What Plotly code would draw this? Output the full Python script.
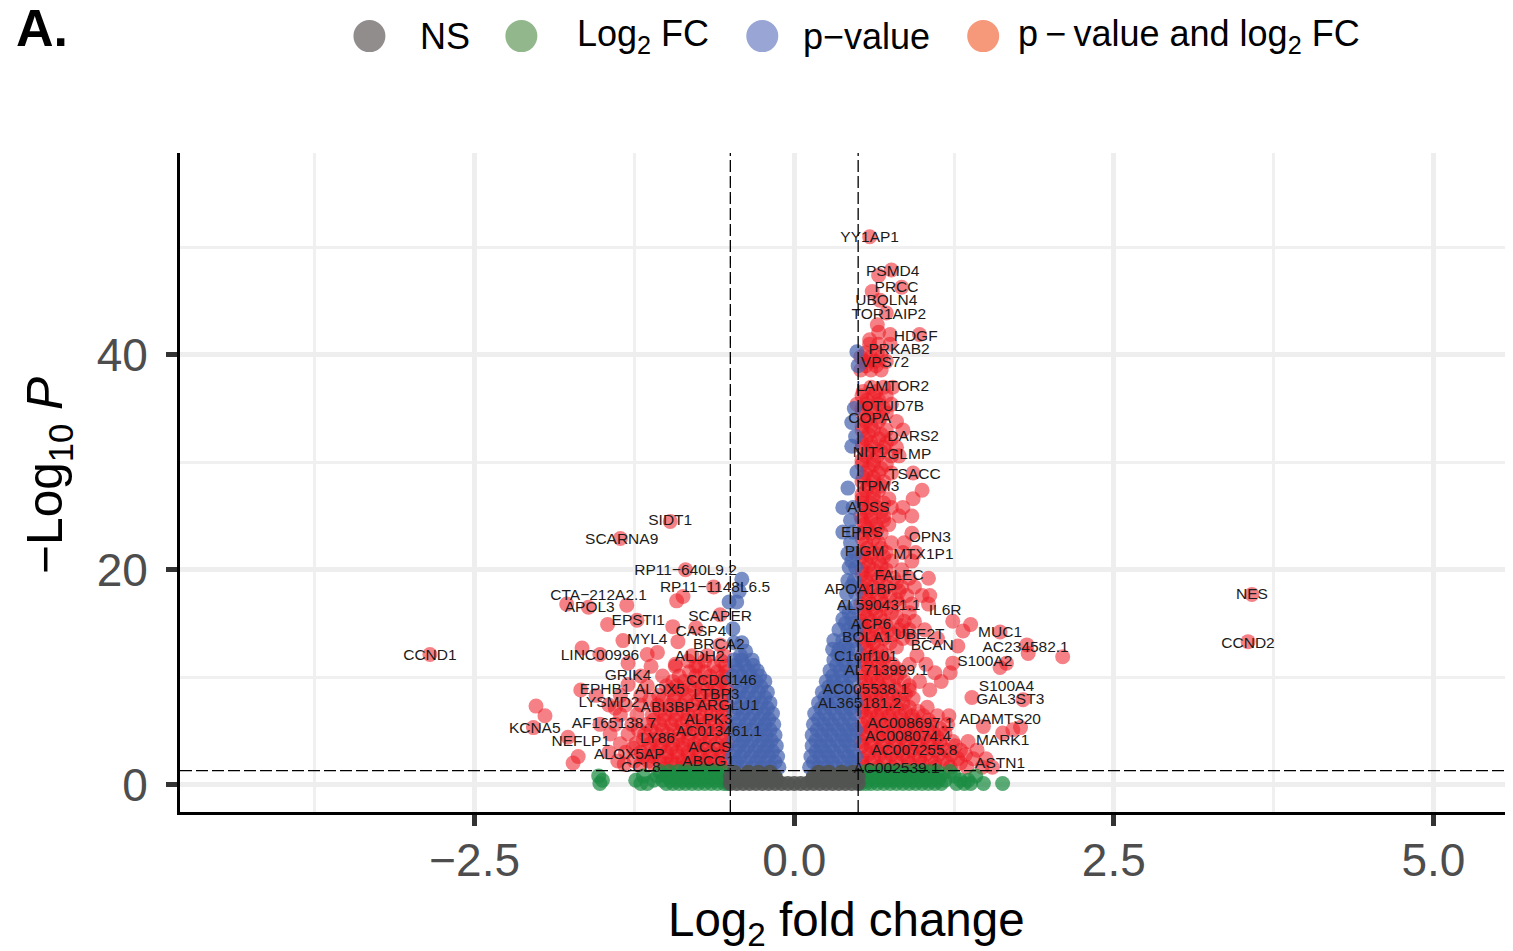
import plotly.graph_objects as go

# ---------- tick and threshold values ----------
x_major = [-2.5, 0, 2.5, 5]
x_major_text = ["\u22122.5", "0.0", "2.5", "5.0"]
x_minor = [-3.75, -1.25, 1.25, 3.75]
y_major = [0, 20, 40]
y_major_text = ["0", "20", "40"]
y_minor = [10, 30, 50]
fc_cut = [-0.5, 0.5]
p_cut = 1.3

# ---------- estimated point clouds: rows of (y, [x, ...]) for dense areas ----------
red_left_rows = [
    (1.5, [-.55, -.66, -.78, -.89, -1.01]),
    (1.9, [-.58, -.68, -.75, -.84, -.93, -1.0, -1.1, -1.2, -1.33]),
    (2.2, [-.53, -.62, -.7, -.79, -.87, -.96, -1.05, -1.14, -1.25, -1.38]),
    (2.6, [-.57, -.66, -.75, -.83, -.91, -1.0, -1.1, -1.18]),
    (3.0, [-.56, -.65, -.74, -.83, -.92, -1.0, -1.09, -1.2, -1.32, -1.45]),
    (3.4, [-.53, -.6, -.69, -.78, -.87, -.96, -1.05, -1.14, -1.26]),
    (3.8, [-.52, -.61, -.7, -.78, -.87, -.95, -1.04, -1.13, -1.24, -1.36]),
    (4.2, [-.56, -.66, -.74, -.83, -.91, -1.0, -1.09, -1.18]),
    (4.7, [-.55, -.64, -.73, -.82, -.9, -.99, -1.08, -1.17, -1.3, -1.44]),
    (5.1, [-.52, -.6, -.68, -.77, -.85, -.94, -1.03, -1.12, -1.22]),
    (5.6, [-.53, -.62, -.71, -.79, -.88, -.96, -1.05, -1.15, -1.27, -1.4, -1.52]),
    (6.0, [-.57, -.66, -.75, -.84, -.93, -1.02, -1.1]),
    (6.5, [-.56, -.65, -.74, -.83, -.92, -1.01, -1.11, -1.23, -1.36]),
    (6.9, [-.53, -.6, -.69, -.78, -.87, -.96, -1.05]),
    (7.4, [-.52, -.61, -.7, -.79, -.88, -.97, -1.07, -1.2, -1.32, -1.45]),
    (7.9, [-.57, -.66, -.75, -.85, -.94, -1.03, -1.13]),
    (8.3, [-.55, -.64, -.73, -.83, -.93, -1.06, -1.2, -1.36, -1.55]),
    (8.8, [-.52, -.6, -.68, -.78, -.88, -.97]),
    (9.2, [-.53, -.62, -.72, -.82, -.92, -1.0, -1.15]),
    (9.6, [-.57, -.66, -.76, -.86, -.95]),
    (10.1, [-.56, -.66, -.77, -.9, -1.03, -1.2]),
    (10.5, [-.53, -.6, -.7, -.82]),
    (11.0, [-.54, -.63, -.75, -.93, -1.12]),
    (11.5, [-.57, -.7, -.83]),
    (12.0, [-.55, -.68, -.8]),
    (13.0, [-.58]),
]
red_left_x = [-.97, -1.36, -.85, -.63, -.87, -.92, -1.78, -1.31, -1.61, -1.46, -1.23, -.95, -.58, -.77,
              -1.34, -1.66, -2.85, -1.52, -1.15, -1.07, -.91, -.93, -.77, -1.3, -1.67, -2.02, -1.95, -2.04,
              -1.77, -1.69, -1.73, -1.4, -1.3]
red_left_y = [24.5, 22.9, 20.0, 18.4, 17.5, 17.1, 16.8, 16.7, 16.5, 14.9, 15.3, 14.7, 15.8, 14.6,
              13.4, 12.7, 12.1, 12.1, 12.1, 12.3, 13.3, 11.2, 11.0, 11.3, 8.8, 7.3, 6.4, 5.3,
              4.4, 2.6, 2.0, 7.1, 9.3]

red_right_rows = [
    (1.6, [.55, .66, .77, .88, .99, 1.1, 1.22, 1.35, 1.47]),
    (2.0, [.53, .6, .7, .8, .9, 1.0, 1.1, 1.2, 1.3]),
    (2.4, [.53, .62, .71, .8, .89, .98, 1.07, 1.17, 1.28, 1.4]),
    (2.8, [.58, .67, .76, .85, .94, 1.03, 1.13, 1.23, 1.34]),
    (3.2, [.56, .65, .74, .83, .92, 1.01, 1.1, 1.19, 1.3, 1.43]),
    (3.6, [.53, .6, .69, .78, .87, .96, 1.06, 1.15, 1.26]),
    (4.0, [.52, .61, .7, .79, .88, .97, 1.05, 1.14, 1.24, 1.36]),
    (4.4, [.57, .66, .75, .84, .93, 1.02, 1.12]),
    (4.8, [.55, .64, .73, .82, .91, 1.0, 1.09, 1.18]),
    (5.2, [.52, .6, .69, .78, .87, .95, 1.04, 1.14]),
    (5.6, [.53, .62, .71, .8, .89, .98, 1.08, 1.2]),
    (6.0, [.58, .67, .76, .85, .94, 1.05]),
    (6.4, [.56, .65, .74, .83, .92, 1.01, 1.12, 1.21]),
    (6.8, [.53, .6, .68, .77, .87, .97]),
    (7.2, [.53, .62, .71, .8, .9, 1.04]),
    (7.6, [.57, .66, .76, .85]),
    (8.0, [.55, .64, .73, .82, .93]),
    (8.4, [.53, .6, .68, .77, .87]),
    (8.8, [.52, .62, .7, .8, .9, 1.06]),
    (9.2, [.58, .67, .78, .9]),
    (9.6, [.56, .65, .74, .86, .98, 1.15]),
    (10.0, [.53, .6, .69, .8]),
    (10.4, [.53, .63, .72, .83, 1.1, 1.22]),
    (10.8, [.58, .68, .8]),
    (11.2, [.56, .66, .77, .9, 1.03]),
    (11.6, [.53, .6, .7]),
    (12.0, [.53, .62, .72, .96]),
    (12.4, [.58, .68]),
    (12.8, [.56, .65, .8]),
    (13.2, [.54, .62, .75]),
    (13.6, [.52, .6, .7, .85, .92, 1.12]),
    (14.0, [.58, .68, .78]),
    (14.4, [.55, .64, .74, .82, .9, 1.02]),
    (14.8, [.54, .62, .72, .84]),
    (15.2, [.52, .6, .7, .86, .94]),
    (15.6, [.57, .67, .8]),
    (16.0, [.55, .64, .76, .9]),
    (16.4, [.54, .62, .72]),
    (16.8, [.52, .6, .7, .82, .92, 1.05]),
    (17.2, [.58, .68, .8]),
    (17.6, [.56, .65, .75, .88, 1.0, 1.06]),
    (18.0, [.53, .6, .7, .82]),
    (18.4, [.53, .62, .72, .84, .94]),
    (18.8, [.57, .68, .8]),
    (19.2, [.56, .66, .78, .9, 1.05]),
    (19.6, [.53, .6, .7]),
    (20.0, [.53, .62, .72, .84]),
    (20.4, [.58, .68]),
    (20.8, [.56, .66, .76, .92]),
    (21.2, [.53, .6, .7]),
    (21.6, [.53, .62, .72, .85, .95]),
    (22.0, [.57, .68]),
    (22.5, [.56, .66, .76, .86]),
    (22.9, [.53, .62]),
    (23.4, [.52, .6, .68, .92]),
    (23.8, [.57, .65]),
    (24.2, [.55, .64, .74]),
    (24.6, [.53, .6, .7]),
    (25.0, [.52, .6, .7, .82, .92]),
    (25.4, [.57, .68]),
    (25.8, [.56, .65, .76, .85]),
    (26.2, [.53, .6, .7]),
    (26.6, [.53, .62, .74, .93]),
    (27.0, [.53, .62]),
    (27.4, [.56, .66, 1.0]),
    (27.8, [.58, .68]),
    (28.2, [.53, .62, .7]),
    (28.6, [.54, .62]),
    (29.0, [.56, .66, .76, .93]),
    (29.4, [.58, .68]),
    (29.8, [.53, .62, .72]),
    (30.2, [.53, .62]),
    (30.6, [.56, .65, .76, .82]),
    (31.0, [.58, .68]),
    (31.4, [.53, .62, .7, .8]),
    (31.8, [.53, .6, .72]),
    (32.2, [.56, .66, .76]),
    (32.6, [.58, .68]),
    (33.0, [.53, .62, .72, .85]),
    (33.4, [.53, .6]),
    (33.8, [.56, .66, .8]),
    (34.2, [.58, .68]),
    (34.6, [.53, .62, .72]),
    (35.0, [.53, .6, .7]),
    (35.4, [.49, .56, .66, .76]),
    (35.8, [.57, .66]),
    (36.2, [.53, .62, .72]),
    (36.6, [.54, .64]),
    (37.0, [.6, .7, .77]),
    (38.6, [.52, .6, .68]),
    (39.0, [.56, .64]),
    (39.4, [.55, .63, .72]),
    (39.8, [.52, .6, .68]),
    (40.2, [.56, .65]),
    (41.0, [.59, .66, .75]),
]
red_right_x = [.59, .76, .66, .84, .61, .67, .72, .65, .66, .75, .98, .59, 2.10, 1.82, 1.83, 1.66, 1.61,
               1.38, 1.32, 1.28, 1.24, 1.24, 1.61, 1.39, 1.79, 1.77, 1.71, 1.63, 1.48, 1.5, 1.55, 3.58, 3.55]
red_right_y = [51.0, 47.9, 47.4, 46.3, 45.9, 45.1, 43.9, 42.8, 42.1, 41.9, 41.9, 41.4, 11.9, 13.0, 12.2, 11.3, 10.9,
               14.9, 14.3, 12.9, 11.3, 15.2, 14.2, 8.1, 7.9, 5.3, 5.1, 4.8, 5.4, 2.4, 1.6, 17.7, 13.3]

blue_left_rows = [
    (1.6, [-.12, -.19, -.26, -.33, -.41, -.47]),
    (2.1, [-.15, -.23, -.3, -.38, -.45]),
    (2.6, [-.13, -.2, -.27, -.34, -.42, -.48]),
    (3.1, [-.17, -.24, -.31, -.39, -.46]),
    (3.6, [-.14, -.21, -.28, -.36, -.43]),
    (4.1, [-.18, -.25, -.33, -.4, -.47]),
    (4.6, [-.15, -.22, -.29, -.37, -.44]),
    (5.1, [-.19, -.26, -.34, -.41, -.48]),
    (5.6, [-.16, -.23, -.3, -.38, -.46]),
    (6.1, [-.2, -.27, -.35, -.43]),
    (6.6, [-.17, -.24, -.32, -.4, -.47]),
    (7.1, [-.21, -.29, -.37, -.44]),
    (7.6, [-.19, -.26, -.33, -.41]),
    (8.1, [-.23, -.31, -.39, -.47]),
    (8.6, [-.21, -.28, -.36, -.43]),
    (9.1, [-.26, -.33, -.41]),
    (9.6, [-.23, -.3, -.38, -.46]),
    (10.1, [-.27, -.34, -.41, -.48]),
    (10.6, [-.29, -.36, -.44]),
    (11.1, [-.32, -.39, -.46]),
    (11.6, [-.33, -.41, -.47]),
    (12.0, [-.42]),
    (12.4, [-.38]),
    (13.2, [-.41, -.47]),
    (14.5, [-.48]),
    (17.0, [-.51, -.45]),
    (18.0, [-.43]),
    (19.1, [-.41]),
]
blue_right_rows = [
    (1.6, [.12, .19, .26, .33, .41, .47]),
    (2.1, [.15, .23, .3, .38, .45]),
    (2.6, [.13, .2, .27, .34, .42, .48]),
    (3.1, [.17, .24, .31, .39, .46]),
    (3.6, [.14, .21, .28, .36, .43]),
    (4.1, [.17, .25, .33, .4, .47]),
    (4.6, [.14, .22, .29, .37, .44]),
    (5.1, [.18, .26, .34, .41, .48]),
    (5.6, [.15, .23, .3, .38, .46]),
    (6.1, [.19, .27, .35, .43]),
    (6.6, [.16, .24, .32, .4, .47]),
    (7.1, [.21, .29, .37, .44]),
    (7.6, [.19, .26, .33, .41, .48]),
    (8.1, [.24, .31, .39, .47]),
    (8.6, [.22, .28, .36, .43]),
    (9.1, [.27, .33, .41]),
    (9.6, [.25, .31, .38, .46]),
    (10.1, [.3, .37, .44]),
    (10.6, [.28, .36, .44]),
    (11.1, [.33, .4, .47]),
    (11.6, [.31, .38, .46]),
    (12.1, [.34, .41]),
    (12.6, [.3, .35, .42, .48]),
    (13.0, [.4]),
    (13.4, [.31, .38, .46]),
    (14.0, [.44]),
    (14.4, [.35, .42, .48]),
    (15.0, [.4, .47]),
    (15.4, [.38, .45]),
    (16.0, [.43]),
    (16.5, [.4, .47]),
    (17.8, [.41, .48]),
    (18.5, [.45]),
    (19.0, [.42, .47]),
    (20.2, [.43, .48]),
    (20.8, [.45]),
    (21.5, [.42, .48]),
    (22.5, [.44]),
    (23.5, [.38, .46]),
    (24.6, [.44]),
    (25.8, [.38, .46]),
    (27.6, [.42]),
    (29.1, [.49]),
    (31.5, [.45]),
    (32.4, [.48]),
    (33.7, [.45]),
    (35.0, [.47]),
    (39.0, [.5]),
    (40.3, [.49]),
]
green_rows = [
    (0.1, [-1.52, -1.2, -1.15, -1.0, -.95, -.9, -.85, -.8, -.75, -.7, -.65, -.6, -.55, -.52,
           .52, .56, .6, .65, .7, .75, .8, .85, .9, .95, 1.0, 1.05, 1.1, 1.15, 1.27, 1.33, 1.38, 1.48, 1.63]),
    (0.4, [-1.5, -1.24, -1.1, -1.03, -.97, -.92, -.87, -.82, -.77, -.72, -.67, -.62, -.57, -.53,
           .53, .58, .63, .68, .73, .78, .83, .88, .93, .98, 1.03, 1.08, 1.13, 1.18, 1.3, 1.36]),
    (0.8, [-1.53, -1.18, -1.07, -1.0, -.94, -.89, -.84, -.79, -.74, -.69, -.64, -.59, -.54,
           .54, .59, .64, .69, .74, .79, .84, .89, .94, .99, 1.04, 1.09, 1.14, 1.25, 1.42]),
    (1.2, [-1.05, -.98, -.91, -.86, -.81, -.76, -.71, -.66, -.61, -.56,
           .56, .61, .66, .71, .76, .81, .86, .91, .96, 1.01, 1.06, 1.12, 1.22]),
]
gray_rows = [
    (0.1, [-.5, -.45, -.4, -.35, -.3, -.25, -.2, -.15, -.1, -.05, 0.0, .05, .1, .15, .2, .25, .3, .35, .4, .45, .5]),
    (0.45, [-.48, -.43, -.38, -.33, -.28, -.23, -.18, -.14, .14, .18, .23, .28, .33, .38, .43, .48]),
    (0.75, [-.5, -.45, -.4, -.35, -.3, -.25, -.2, -.15, .15, .2, .25, .3, .35, .4, .45, .5]),
    (1.15, [-.47, -.36, -.28, -.19, .19, .27, .37, .46]),
]

# ---------- gene labels ----------
label_names = ["YY1AP1", "PSMD4", "PRCC", "UBQLN4", "TOR1AIP2", "HDGF", "PRKAB2", "VPS72", "LAMTOR2", "OTUD7B",
               "COPA", "DARS2", "NIT1", "GLMP", "TSACC", "TPM3", "ADSS", "EPRS", "OPN3", "PIGM", "MTX1P1", "FALEC",
               "APOA1BP", "AL590431.1", "IL6R", "ACP6", "MUC1", "BOLA1", "UBE2T", "AC234582.1", "BCAN", "C1orf101",
               "S100A2", "AL713999.1", "AC005538.1", "S100A4", "GAL3ST3", "AL365181.2", "ADAMTS20", "AC008697.1",
               "AC008074.4", "AC007255.8", "MARK1", "ASTN1", "AC002539.1",
               "SIDT1", "SCARNA9", "RP11\u2212640L9.2", "RP11\u22121148L6.5", "CTA\u2212212A2.1", "APOL3", "EPSTI1",
               "SCAPER", "CASP4", "MYL4", "BRCA2", "LINC00996", "ALDH2", "CCND1", "GRIK4", "CCDC146", "EPHB1",
               "ALOX5", "LTBP3", "LYSMD2", "ABI3BP", "ARGLU1", "AF165138.7", "ALPK3", "KCNA5", "AC013461.1", "LY86",
               "NEFLP1", "ACCS", "ALOX5AP", "ABCG1", "CCL8", "NES", "CCND2"]
label_x = [.59, .77, .80, .72, .74, .95, .82, .71, .77, .77,
           .59, .93, .59, .90, .94, .66, .58, .53, 1.06, .55, 1.01, .82,
           .52, .66, 1.18, .60, 1.61, .57, .98, 1.81, 1.08, .56,
           1.49, .72, .56, 1.66, 1.69, .51, 1.61, .91,
           .89, .94, 1.63, 1.61, .80,
           -.97, -1.35, -.85, -.62, -1.53, -1.60, -1.22,
           -.58, -.73, -1.15, -.59, -1.52, -.74, -2.85, -1.30, -.57, -1.48,
           -1.05, -.61, -1.45, -.99, -.52, -1.41, -.67, -2.03, -.59, -1.07,
           -1.67, -.66, -1.29, -.67, -1.20, 3.58, 3.55]
label_y = [50.9, 47.7, 46.2, 45.0, 43.7, 41.7, 40.4, 39.2, 37.0, 35.1,
           34.0, 32.3, 30.9, 30.7, 28.8, 27.7, 25.7, 23.4, 22.9, 21.6, 21.4, 19.4,
           18.1, 16.6, 16.1, 14.8, 14.1, 13.6, 13.9, 12.7, 12.9, 11.9,
           11.4, 10.6, 8.8, 9.1, 7.9, 7.5, 6.0, 5.6,
           4.4, 3.1, 4.0, 1.9, 1.4,
           24.5, 22.8, 19.9, 18.3, 17.5, 16.4, 15.2,
           15.6, 14.2, 13.4, 13.0, 12.0, 11.9, 12.0, 10.1, 9.6, 8.8,
           8.8, 8.3, 7.6, 7.1, 7.3, 5.6, 6.0, 5.2, 4.9, 4.2,
           3.9, 3.4, 2.7, 2.1, 1.5, 17.6, 13.1]

# ---------- legend entries: name, dot colour ----------
legend_names = ["NS", "Log<sub>2</sub> FC", "p\u2212value", "p\u2009\u2212\u2009value and log<sub>2</sub> FC"]
legend_colors = ["#918d8d", "#92b78c", "#99a5d5", "#f6987a"]
x_title = "Log<sub>2</sub> fold change"
y_title = "\u2212Log<sub>10</sub> <i>P</i>"


def unpack(rows, extra_x=(), extra_y=()):
    xs, ys = [], []
    for y, row in rows:
        xs += row
        ys += [y] * len(row)
    return xs + list(extra_x), ys + list(extra_y)


# ---------- layout geometry (pixels in the 1513x951 page) ----------
W, H = 1513, 951
L, R, T, B = 179.5, 1505, 153, 812.5


def px(v):
    return (v - L) / (R - L)


def py(v):
    return (B - v) / (B - T)


fig = go.Figure()

series = [
    ("p-value and log2 FC left", *unpack(red_left_rows, red_left_x, red_left_y), "rgba(238,28,37,0.56)"),
    ("p-value and log2 FC right", *unpack(red_right_rows, red_right_x, red_right_y), "rgba(238,28,37,0.56)"),
    ("p-value left", *unpack(blue_left_rows), "rgba(70,100,175,0.72)"),
    ("p-value right", *unpack(blue_right_rows), "rgba(70,100,175,0.72)"),
    ("Log2 FC", *unpack(green_rows), "rgba(28,140,66,0.72)"),
    ("NS", *unpack(gray_rows), "rgba(82,84,82,0.9)"),
]
for name, xs, ys, color in series:
    fig.add_trace(go.Scatter(x=xs, y=ys, mode="markers", name=name, showlegend=False, hoverinfo="skip",
                             marker=dict(size=15, color=color, line=dict(width=0))))

fig.add_trace(go.Scatter(x=label_x, y=label_y, text=label_names, mode="text", showlegend=False,
                         textposition="middle center", cliponaxis=False, hoverinfo="skip",
                         textfont=dict(family="Liberation Sans", size=15.5, color="#1c1c1c")))

shapes = []
for c in fc_cut:
    shapes.append(dict(type="line", xref="x", yref="paper", x0=c, x1=c, y0=0, y1=1, layer="above",
                       line=dict(color="black", width=1.3, dash="12px,4px")))
shapes.append(dict(type="line", xref="paper", yref="y", x0=0, x1=1, y0=p_cut, y1=p_cut, layer="above",
                   line=dict(color="black", width=1.3, dash="12px,4px")))

dot_px = [369, 521, 762, 983]
text_px = [418, 575, 801, 1016]
r = 16
cy = 36
annotations = [
    dict(text="<b>A.</b>", xref="paper", yref="paper", x=px(13), y=py(28), xanchor="left", yanchor="middle",
         showarrow=False, font=dict(family="Liberation Sans", size=52, color="black")),
    dict(text=x_title, xref="paper", yref="paper", x=px(846.5), y=py(924), xanchor="center", yanchor="middle",
         showarrow=False, font=dict(family="Liberation Sans", size=47.5, color="black")),
    dict(text=y_title, xref="paper", yref="paper", x=px(48), y=py(475.5), xanchor="center", yanchor="middle",
         textangle=-90, showarrow=False, font=dict(family="Liberation Sans", size=49.5, color="black")),
]
for name, color, d, t in zip(legend_names, legend_colors, dot_px, text_px):
    shapes.append(dict(type="circle", xref="paper", yref="paper", x0=px(d - r), x1=px(d + r),
                       y0=py(cy + r), y1=py(cy - r), fillcolor=color, line=dict(width=0)))
    annotations.append(dict(text=name, xref="paper", yref="paper", x=px(t), y=py(cy), xanchor="left", yanchor="middle",
                            showarrow=False, font=dict(family="Liberation Sans", size=36, color="black")))

axis_common = dict(showline=True, linecolor="black", linewidth=3, ticks="outside", ticklen=11, tickwidth=5,
                   tickcolor="#333333", showgrid=True, gridcolor="#eeeeee", gridwidth=5, zeroline=False,
                   tickfont=dict(family="Liberation Sans", size=46, color="#4d4d4d"))

fig.update_layout(
    width=W, height=H, margin=dict(l=L, r=W - R, t=T, b=H - B, autoexpand=False),
    paper_bgcolor="white", plot_bgcolor="white", showlegend=False,
    font=dict(family="Liberation Sans"), shapes=shapes, annotations=annotations,
    xaxis=dict(range=[-4.805, 5.56], tickmode="array", tickvals=x_major, ticktext=x_major_text,
               ticklabelstandoff=-5,
               minor=dict(tickmode="array", tickvals=x_minor, showgrid=True, gridcolor="#f0f0f0", gridwidth=2.5, ticks=""),
               **axis_common),
    yaxis=dict(range=[-2.56, 58.8], tickmode="array", tickvals=y_major, ticktext=y_major_text,
               ticklabelstandoff=9,
               minor=dict(tickmode="array", tickvals=y_minor, showgrid=True, gridcolor="#f0f0f0", gridwidth=2.5, ticks=""),
               **axis_common),
)

fig.write_html("out.html", post_script="document.body.style.margin='0';", config={"displayModeBar": False})
